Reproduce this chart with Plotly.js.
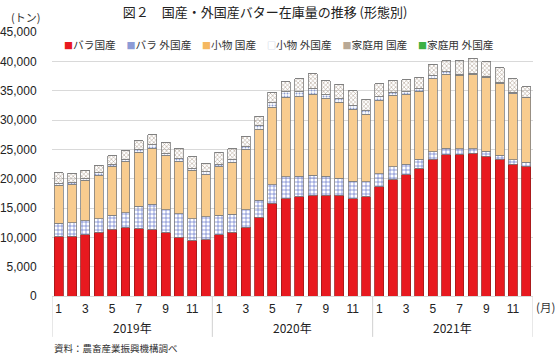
<!DOCTYPE html>
<html><head><meta charset="utf-8">
<script src="https://cdn.plot.ly/plotly-3.0.1.min.js"></script>
<style>html,body{margin:0;padding:0;background:#fff;}#chart{width:558px;height:355px;}</style>
</head><body><div id="chart"></div>
<script>
const years = ["2019年","2019年","2019年","2019年","2019年","2019年","2019年","2019年","2019年","2019年","2019年","2019年",
               "2020年","2020年","2020年","2020年","2020年","2020年","2020年","2020年","2020年","2020年","2020年","2020年",
               "2021年","2021年","2021年","2021年","2021年","2021年","2021年","2021年","2021年","2021年","2021年","2021年"];
const months = [1,2,3,4,5,6,7,8,9,10,11,12,1,2,3,4,5,6,7,8,9,10,11,12,1,2,3,4,5,6,7,8,9,10,11,12];

const seriesNames = ["バラ国産","バラ 外国産","小物 国産","小物 外国産","家庭用 国産","家庭用 外国産"];
const bulkDomestic = [10100,10200,10400,10900,11400,11600,11500,11300,10800,10000,9400,9600,
                      10400,10900,11700,13400,15800,16700,16900,17200,17200,17200,16600,16900,
                      18600,19800,20700,21700,23300,24100,24200,24300,23800,23300,22500,22100];
const bulkImport   = [2300,2300,2400,2300,2400,2600,3800,4300,3900,4000,3800,3900,
                      3400,3000,3000,2900,3200,3600,3500,3400,3200,2900,3000,2600,
                      2200,2200,1800,1600,1300,1100,900,800,900,700,700,700];
const smallDomestic= [6500,6500,6900,7400,8300,8700,9200,9600,9200,8900,8200,7200,
                      8200,8900,10200,12100,13200,13600,13600,13800,13200,12900,12200,11500,
                      12500,12200,11800,11600,12400,12600,12500,12700,12600,12300,11300,11000];
const smallImport  = [300,300,300,400,300,400,500,600,400,500,400,500,
                      400,500,500,700,700,900,800,900,700,600,700,700,
                      700,500,500,400,600,400,200,200,100,100,200,100];
const homeDomestic = [1800,1600,1400,1300,1500,1500,1500,1700,1900,1800,1900,1400,
                      2100,1800,1800,1500,1800,1700,2200,2600,2400,2500,2500,1800,
                      2200,2100,2100,2000,1900,1900,2300,2500,2500,2500,2300,1800];
const homeImport   = [0,0,0,0,0,0,0,0,0,0,0,0,0,0,0,0,0,0,0,0,0,0,0,0,0,0,0,0,0,0,0,0,0,0,0,0];
const yTicks = [0,5000,10000,15000,20000,25000,30000,35000,40000,45000];

const idx = months.map((m,i)=>i);
const values = [bulkDomestic,bulkImport,smallDomestic,smallImport,homeDomestic,homeImport];
const styles = [
  {color:"#E8191F", line:{color:"#9a1a1a",width:0.8}},
  {color:"#c9d0ef", line:{color:"#7f7f7f",width:0.8}, pattern:{shape:"+",fgcolor:"#5a6ec8",size:4,solidity:0.3}},
  {color:"#F8CC8F", line:{color:"#7f7f7f",width:0.8}},
  {color:"#ffffff", line:{color:"#7f7f7f",width:0.8}, pattern:{shape:".",fgcolor:"#8c9ccf",size:3,solidity:0.35}},
  {color:"#ebe1d5", line:{color:"#7f7f7f",width:0.8}, pattern:{shape:"x",fgcolor:"#a69584",size:3,solidity:0.3}},
  {color:"#3CB043", line:{color:"#7f7f7f",width:0.8}}
];
const legendColors = ["#E8191F","#8c9bd6","#F5B860","#b8bfd8","#b9a995","#3CB043"];
const legendGlyphs = ["■","■","■","□","■","■"];

const traces = seriesNames.map((n,k)=>({
  type:"bar", name:n, x:idx, y:values[k], marker:styles[k], hoverinfo:"skip"
}));

const oddIdx = idx.filter(i=>months[i]%2===1);
const yearList = [...new Set(years)];
const annotations = [];
const shapes = [];
yearList.forEach(yr=>{
  const ii = idx.filter(i=>years[i]===yr);
  const c = (ii[0]+ii[ii.length-1])/2;
  annotations.push({x:c, xref:"x", y:0, yref:"paper", yanchor:"middle", yshift:-31, text:yr, showarrow:false,
    font:{family:"Noto Sans CJK JP", size:12, color:"#222"}});
  shapes.push({type:"line", xref:"x", yref:"paper", x0:ii[0]-0.5, x1:ii[0]-0.5, y0:0, y1:-0.155, line:{color:"#d0d0d0",width:1}});
});
shapes.push({type:"line", xref:"x", yref:"paper", x0:idx.length-0.5, x1:idx.length-0.5, y0:0, y1:-0.155, line:{color:"#d0d0d0",width:1}});

const legendText = seriesNames.map((n,k)=>`<span style="color:${legendColors[k]};font-size:9px">${legendGlyphs[k]}</span>${n}`).join("　");
annotations.push({x:0.02, xref:"paper", xanchor:"left", y:0.951, yref:"paper", yanchor:"middle", text:legendText, showarrow:false,
  font:{family:"Noto Sans CJK JP", size:10.7, color:"#333"}});
annotations.push({x:0, xref:"paper", xshift:-27, xanchor:"center", y:1, yref:"paper", yshift:15, yanchor:"middle", text:"(トン)", showarrow:false,
  font:{family:"Noto Sans CJK JP", size:11, color:"#333"}});
annotations.push({x:1, xref:"paper", xshift:1, xanchor:"left", y:0, yref:"paper", yshift:-11, yanchor:"middle", text:"(月)", showarrow:false,
  font:{family:"Noto Sans CJK JP", size:11.5, color:"#333"}});
annotations.push({x:0, xref:"paper", xanchor:"left", y:0, yref:"paper", yshift:-52, yanchor:"middle", text:"資料：農畜産業振興機構調べ", showarrow:false,
  font:{family:"Noto Sans CJK JP", size:9.5, color:"#333"}});

const layout = {
  width:558, height:355,
  margin:{l:52, r:25, t:32, b:59},
  paper_bgcolor:"#fff", plot_bgcolor:"#fff",
  barmode:"stack", bargap:0.33, showlegend:false,
  title:{text:"図２　国産・外国産バター在庫量の推移 (形態別)", x:0.475, xanchor:"center", y:0.965, yanchor:"middle",
    font:{family:"Noto Sans CJK JP", size:13, color:"#222"}},
  xaxis:{range:[-0.5, idx.length-0.5], tickvals:oddIdx, ticktext:oddIdx.map(i=>String(months[i])),
    showgrid:false, zeroline:false, showline:true, linecolor:"#d9d9d9", linewidth:1, ticks:"", ticklabelstandoff:2,
    tickfont:{family:"Liberation Sans, Arial", size:12, color:"#222"}},
  yaxis:{range:[0,45000], tickvals:yTicks, tickformat:",", gridcolor:"#d9d9d9", gridwidth:1, zeroline:false,
    showline:false, ticks:"outside", ticklen:12, tickcolor:"rgba(0,0,0,0)",
    tickfont:{family:"Liberation Sans, Arial", size:12, color:"#222"}},
  annotations:annotations, shapes:shapes
};
Plotly.newPlot("chart", traces, layout, {staticPlot:true});
</script></body></html>
